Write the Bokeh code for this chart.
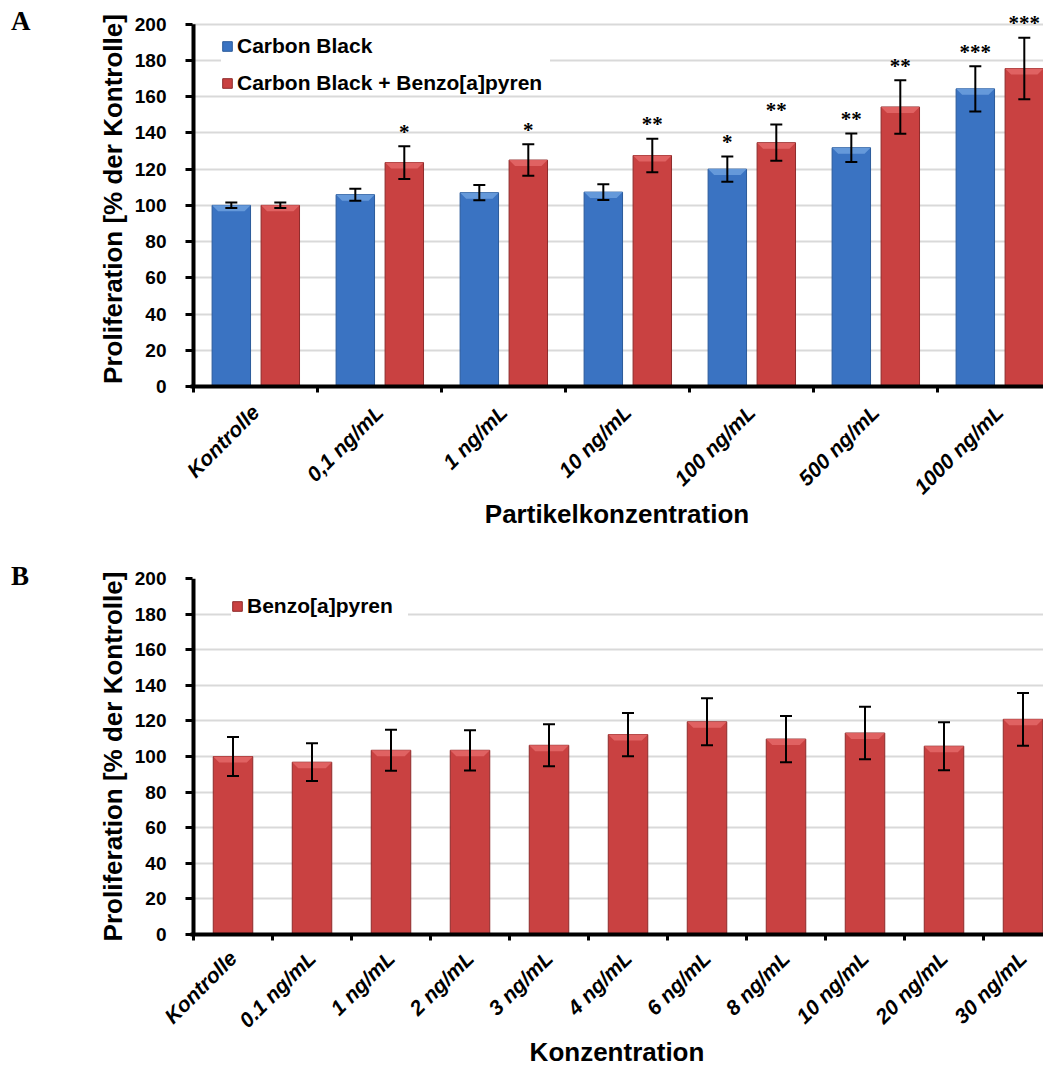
import numpy as np
from bokeh.plotting import figure
from bokeh.models import (ColumnDataSource, Whisker, LabelSet, FixedTicker,
                          Legend, LegendItem, Range1d, TeeHead, Div)
from bokeh.layouts import column, row
from bokeh.embed import file_html
from bokeh.resources import INLINE

# ---------------- data: panel A ----------------
cats_a = ["Kontrolle", "0,1 ng/mL", "1 ng/mL", "10 ng/mL", "100 ng/mL", "500 ng/mL", "1000 ng/mL"]
cb_mean = [100, 105.9, 107.0, 107.3, 120.0, 131.8, 164.3]
cb_err = [1.5, 3.3, 4.2, 4.4, 7.0, 7.9, 12.5]
cb_sig = ["", "", "", "", "*", "**", "***"]
cbb_mean = [100, 123.6, 125.0, 127.5, 134.6, 154.3, 175.5]
cbb_err = [1.5, 9.0, 8.7, 9.3, 10.0, 14.8, 17.0]
cbb_sig = ["", "*", "*", "**", "**", "**", "***"]

# ---------------- data: panel B ----------------
cats_b = ["Kontrolle", "0.1 ng/mL", "1 ng/mL", "2 ng/mL", "3 ng/mL", "4 ng/mL",
          "6 ng/mL", "8 ng/mL", "10 ng/mL", "20 ng/mL", "30 ng/mL"]
bap_mean = [100, 96.8, 103.5, 103.5, 106.3, 112.3, 119.5, 109.8, 113.2, 105.8, 120.9]
bap_err = [11.0, 10.6, 11.5, 11.3, 11.8, 12.2, 13.2, 13.0, 14.7, 13.5, 14.8]

y_ticks = list(range(0, 201, 20))

FONT = "Liberation Sans"
BLUE, BLUE_EDGE, BLUE_LIGHT = "#3A73C2", "#2B5A9A", "#6A9DDD"
RED, RED_EDGE, RED_LIGHT = "#C94141", "#8E2B2B", "#E26666"

DIV_W = 40
FIG_W = 1043 - DIV_W
BORDER_L = 150          # frame left at 190 px
AXIS_GAP = 3            # px between frame edge and the first category boundary
FRAME_W = FIG_W - BORDER_L
BEVEL_PX = 6


def base_figure(height, cat_px, y_end, border_top, border_bottom, xlabel, cats,
                tick_standoff, label_standoff):
    p = figure(width=FIG_W, height=height, output_backend="svg", toolbar_location=None,
               x_range=Range1d(-AXIS_GAP / cat_px, (FRAME_W - AXIS_GAP) / cat_px),
               y_range=Range1d(0, y_end),
               min_border_left=BORDER_L, min_border_right=0,
               min_border_top=border_top, min_border_bottom=border_bottom)
    p.outline_line_color = None
    p.xgrid.grid_line_color = None
    p.ygrid.grid_line_color = "#D9D9D9"
    p.ygrid.grid_line_width = 2

    centers = np.arange(len(cats)) + 0.5
    bounds = np.arange(len(cats) + 1).astype(float)
    p.xaxis.ticker = FixedTicker(ticks=list(centers), minor_ticks=list(bounds))
    p.xaxis.major_label_overrides = {float(c): lab for c, lab in zip(centers, cats)}
    p.xaxis.major_label_orientation = np.pi / 4
    p.xaxis.major_tick_out = 0
    p.xaxis.major_tick_in = 0
    p.xaxis.minor_tick_out = 6
    p.xaxis.minor_tick_in = 0
    p.xaxis.minor_tick_line_width = 3
    p.xaxis.minor_tick_line_color = "black"
    p.xaxis.axis_line_width = 4
    p.xaxis.axis_line_color = "black"
    p.xaxis.major_label_text_font = FONT
    p.xaxis.major_label_text_font_style = "bold italic"
    p.xaxis.major_label_text_font_size = "21px"
    p.xaxis.major_label_text_color = "black"
    p.xaxis.major_label_standoff = tick_standoff
    p.xaxis.axis_label = xlabel
    p.xaxis.axis_label_text_font = FONT
    p.xaxis.axis_label_text_font_style = "bold"
    p.xaxis.axis_label_text_font_size = "26px"
    p.xaxis.axis_label_text_color = "black"
    p.xaxis.axis_label_standoff = label_standoff

    p.yaxis.ticker = FixedTicker(ticks=y_ticks)
    p.yaxis.minor_tick_line_color = None
    p.yaxis.major_tick_out = 5
    p.yaxis.major_tick_in = 2
    p.yaxis.major_tick_line_width = 3
    p.yaxis.major_tick_line_color = "black"
    p.yaxis.axis_line_color = None
    p.yaxis.major_label_text_font = FONT
    p.yaxis.major_label_text_font_style = "bold"
    p.yaxis.major_label_text_font_size = "19px"
    p.yaxis.major_label_text_color = "black"
    p.yaxis.major_label_standoff = 19
    p.yaxis.axis_label = "Proliferation [% der Kontrolle]"
    p.yaxis.axis_label_text_font = FONT
    p.yaxis.axis_label_text_font_style = "bold"
    p.yaxis.axis_label_text_font_size = "26px"
    p.yaxis.axis_label_text_color = "black"
    p.yaxis.axis_label_standoff = 4

    # vertical axis line from the lowest to the highest tick, at the first category boundary
    p.segment(x0=[bounds[0]], y0=[min(y_ticks)], x1=[bounds[0]], y1=[max(y_ticks)],
              line_width=4, line_color="black")
    return p, centers


def add_bars(p, x, mean, err, sig, color, edge, light, width, cat_px, px_per_unit):
    x = np.asarray(x, float)
    mean = np.asarray(mean, float)
    err = np.asarray(err, float)
    src = ColumnDataSource(dict(x=x, top=mean, upper=mean + err, lower=mean - err,
                                star_y=mean + err + 8.0, sig=sig))
    r = p.vbar(x="x", top="top", bottom=0, width=width, source=src,
               fill_color=color, line_color=edge, line_width=1)
    # bevelled top edge of each bar (lighter trapezoid)
    dx = BEVEL_PX / cat_px
    dy = BEVEL_PX / px_per_unit
    xs = [[xi - width / 2, xi + width / 2, xi + width / 2 - dx, xi - width / 2 + dx] for xi in x]
    ys = [[t, t, t - dy, t - dy] for t in mean]
    p.patches(xs=xs, ys=ys, fill_color=light, line_color=None, fill_alpha=0.9)
    p.add_layout(Whisker(source=src, base="x", upper="upper", lower="lower",
                         line_width=2, line_color="black", level="overlay",
                         upper_head=TeeHead(size=12, line_width=2, line_color="black"),
                         lower_head=TeeHead(size=12, line_width=2, line_color="black")))
    p.add_layout(LabelSet(source=src, x="x", y="star_y", text="sig",
                          text_align="center", text_baseline="middle",
                          text_font=FONT, text_font_style="bold",
                          text_font_size="21px", text_color="black"))
    return r


def panel_letter(letter, top_pad, height):
    html = ("<div style=\"font-family:'Liberation Serif';font-weight:bold;font-size:27px;"
            f"line-height:27px;padding-top:{top_pad}px;padding-left:11px;color:black\">{letter}</div>")
    return Div(text=html, width=DIV_W, height=height, margin=(0, 0, 0, 0))


# ---------------- panel A ----------------
H_A = 536
A_TOP, A_FRAME = 11, 375
pA, cA = base_figure(H_A, 124.0, 207, A_TOP, H_A - A_TOP - A_FRAME,
                     "Partikelkonzentration", cats_a, 16, -10)
ppu_a = A_FRAME / 207.0
rA1 = add_bars(pA, cA - 0.195, cb_mean, cb_err, cb_sig, BLUE, BLUE_EDGE, BLUE_LIGHT, 0.31, 124.0, ppu_a)
rA2 = add_bars(pA, cA + 0.2, cbb_mean, cbb_err, cbb_sig, RED, RED_EDGE, RED_LIGHT, 0.31, 124.0, ppu_a)
legA = Legend(items=[LegendItem(label="Carbon Black", renderers=[rA1]),
                     LegendItem(label="Carbon Black + Benzo[a]pyren", renderers=[rA2])],
              location=(31, 291), padding=10, margin=0, spacing=13,
              glyph_width=12, glyph_height=12, label_standoff=4, label_width=313,
              label_text_font=FONT, label_text_font_style="bold",
              label_text_font_size="21px", label_text_color="black",
              border_line_color=None, background_fill_color="white", background_fill_alpha=1)
pA.add_layout(legA)

# ---------------- panel B ----------------
H_B = 1070 - H_A
B_TOP, B_FRAME = 42, 356
pB, cB = base_figure(H_B, 79.0, 200, B_TOP, H_B - B_TOP - B_FRAME, "Konzentration", cats_b, 14, -6)
ppu_b = B_FRAME / 200.0
rB = add_bars(pB, cB, bap_mean, bap_err, [""] * len(cats_b), RED, RED_EDGE, RED_LIGHT, 0.5, 79.0, ppu_b)
legB = Legend(items=[LegendItem(label="Benzo[a]pyren", renderers=[rB])],
              location=(41, 316), padding=8, margin=0, spacing=0,
              glyph_width=12, glyph_height=12, label_standoff=4, label_width=161,
              label_text_font=FONT, label_text_font_style="bold",
              label_text_font_size="21px", label_text_color="black",
              border_line_color=None, background_fill_color="white", background_fill_alpha=1)
pB.add_layout(legB)

layout = column(row(panel_letter("A", 8, H_A), pA, spacing=0),
                row(panel_letter("B", 27, H_B), pB, spacing=0), spacing=0)
open("out.html", "w").write(file_html(layout, INLINE))
